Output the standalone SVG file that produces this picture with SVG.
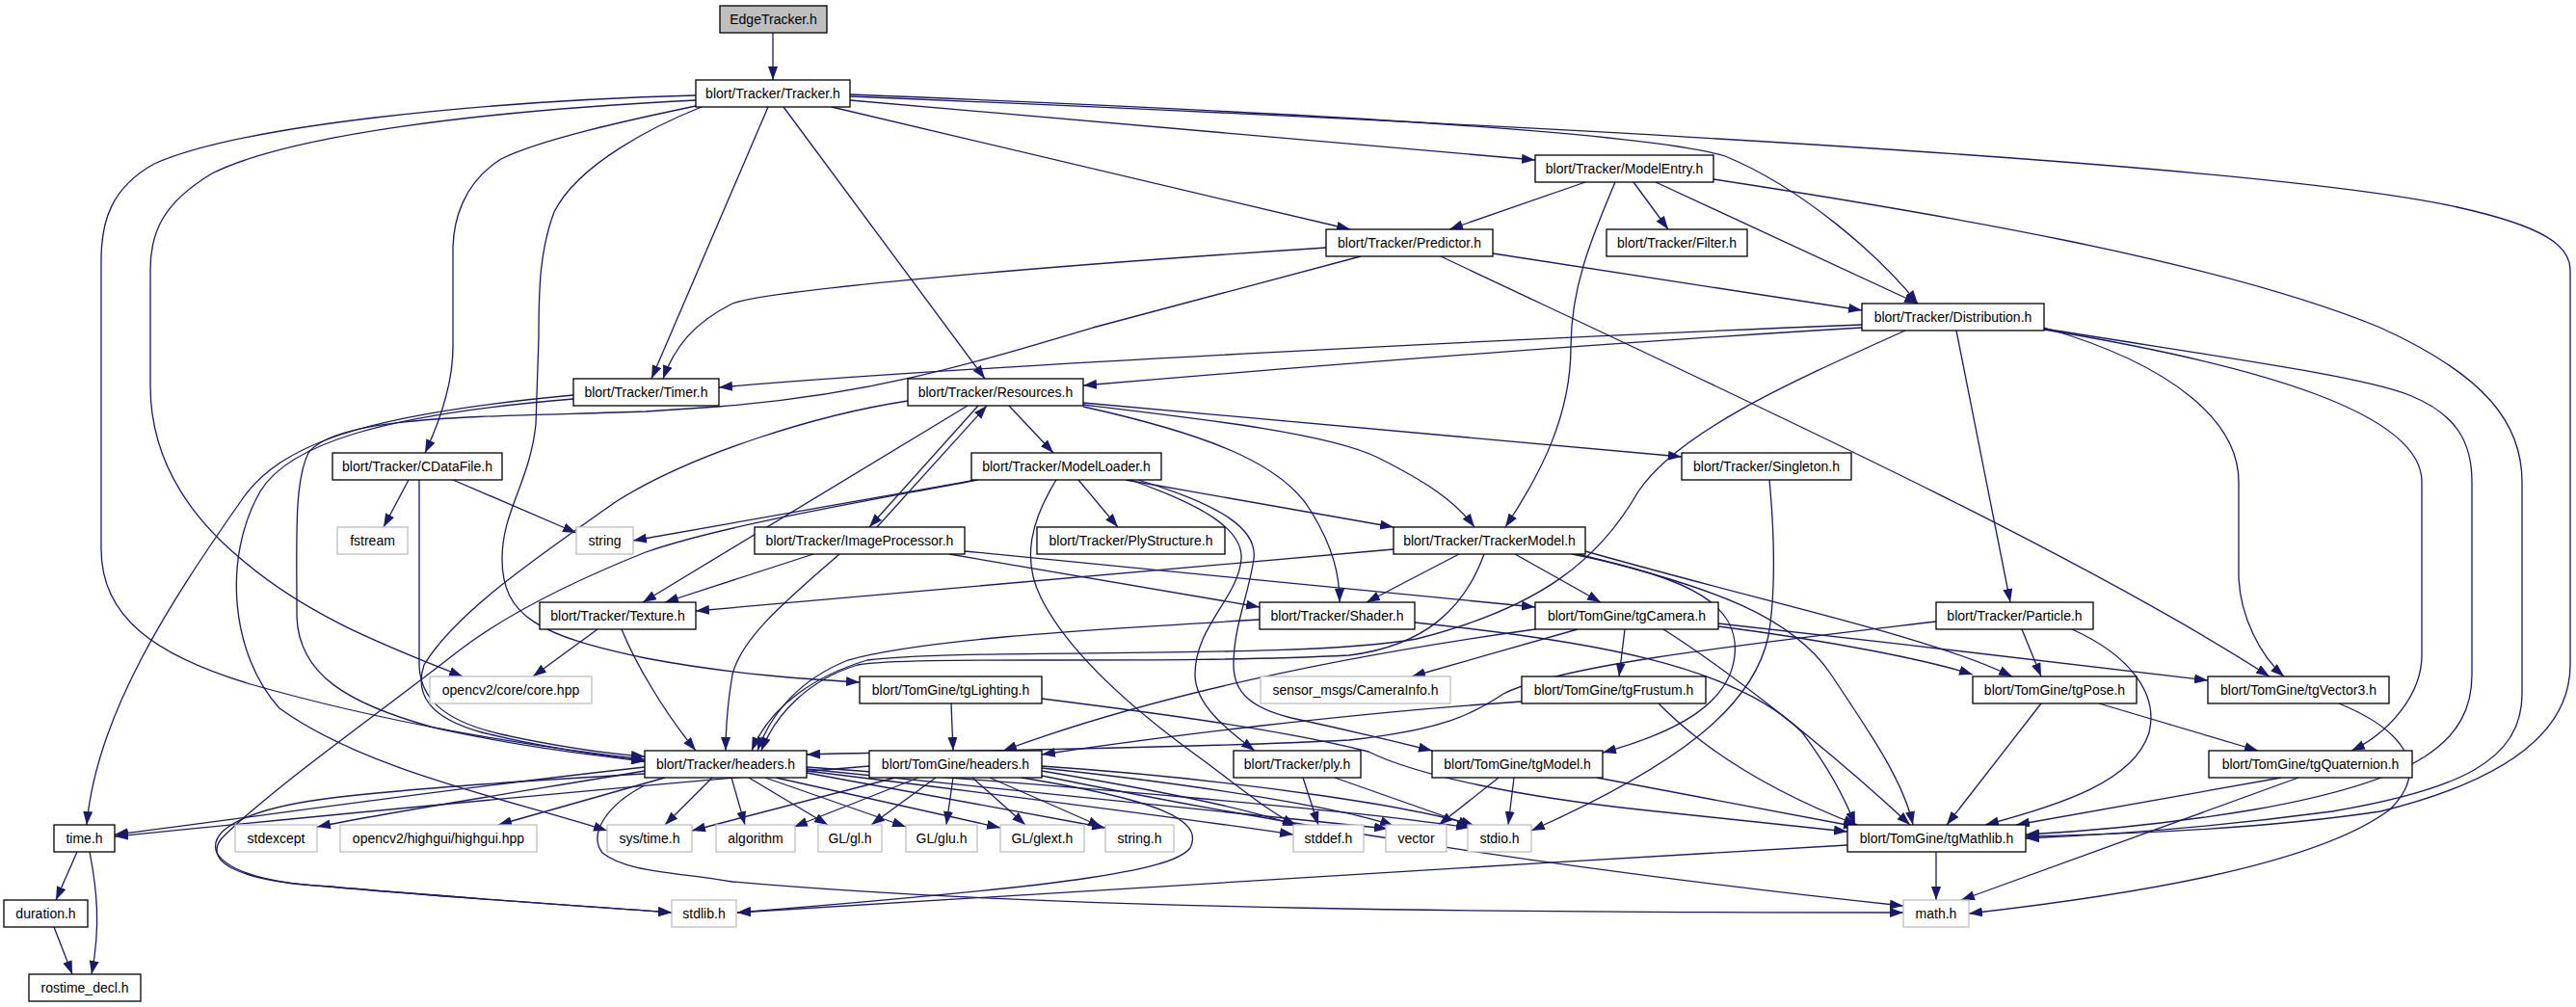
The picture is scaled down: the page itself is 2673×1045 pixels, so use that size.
<svg xmlns="http://www.w3.org/2000/svg" width="2673" height="1045" viewBox="0 0 2673 1045">
<style>
.edge{fill:none;stroke:#191970;stroke-width:1.3;marker-end:url(#arr)}
.node rect{fill:#ffffff;stroke:#000000;stroke-width:1.3}
.ext rect{fill:#ffffff;stroke:#bfbfbf;stroke-width:1.3}
.root rect{fill:#bfbfbf;stroke:#000000;stroke-width:1.3}
text{font-family:"Liberation Sans",Arial,sans-serif;font-size:14px;text-anchor:middle;fill:#000000}
</style>
<defs>
<marker id="arr" markerUnits="userSpaceOnUse" markerWidth="14" markerHeight="10" refX="14" refY="5" orient="auto"><path d="M0,0 L14,5 L0,10 z" fill="#191970"/></marker>
</defs>
<rect x="0" y="0" width="2673" height="1045" fill="#ffffff"/>
<g id="edges">
<path class="edge" d="M802,34 L802,83"/>
<path class="edge" d="M797,111 L676,393"/>
<path class="edge" d="M813,111 L1022,393"/>
<path class="edge" d="M863,111 L1401,238"/>
<path class="edge" d="M882,104 L1593,166"/>
<path class="edge" d="M882,98 C1300,115 1700,135 1790,162 C1870,195 1950,265 1990,315"/>
<path class="edge" d="M882,100 C1600,130 2350,170 2550,215 C2640,235 2667,255 2667,280 L2667,690 C2667,760 2600,810 2470,842 C2350,860 2200,866 2102,868"/>
<path class="edge" d="M722,110 C650,125 560,145 520,165 C480,190 470,230 470,260 L470,360 C470,400 455,440 441,470"/>
<path class="edge" d="M728,111 C680,130 600,170 575,220 C560,260 559,300 559,350 L556,440 C550,500 521,530 521,580 C521,640 560,660 670,683 C760,700 840,705 892,708"/>
<path class="edge" d="M722,99 C500,105 250,130 160,170 C115,195 105,230 105,270 L105,570 C105,640 160,680 260,710 C400,750 550,775 669,788"/>
<path class="edge" d="M722,104 C500,115 300,140 220,180 C170,210 156,240 156,280 L156,400 C156,470 190,530 250,580 C320,640 400,670 480,702"/>
<path class="edge" d="M1645,189 L1504,238"/>
<path class="edge" d="M1695,189 L1731,238"/>
<path class="edge" d="M1718,189 L1990,315"/>
<path class="edge" d="M1676,189 C1650,250 1630,300 1630,360 C1630,430 1600,490 1562,547"/>
<path class="edge" d="M1778,186 C2000,220 2300,270 2470,340 C2580,390 2617,440 2617,500 L2617,720 C2617,790 2550,820 2420,842 C2300,858 2200,866 2102,870"/>
<path class="edge" d="M1376,257 C1100,275 800,300 760,315 C720,335 700,360 688,393"/>
<path class="edge" d="M1549,263 L1932,322"/>
<path class="edge" d="M1495,266 C1800,410 2150,570 2355,702"/>
<path class="edge" d="M1412,266 L1134,340 C1000,380 900,410 745,422 L670,427 C500,433 350,430 320,470 C305,500 308,560 308,640 C310,700 360,730 450,755 C540,775 610,783 669,790"/>
<path class="edge" d="M1932,337 C1600,350 1000,380 746,402"/>
<path class="edge" d="M1932,340 C1600,360 1300,385 1124,400"/>
<path class="edge" d="M2030,343 L2086,625"/>
<path class="edge" d="M2121,340 C2260,380 2323,440 2323,500 L2323,600 C2325,640 2345,680 2370,702"/>
<path class="edge" d="M2121,342 C2350,380 2513,430 2513,500 L2513,680 C2513,720 2480,760 2440,779"/>
<path class="edge" d="M2121,341 C2300,370 2450,390 2500,410 C2550,430 2565,460 2565,500 L2565,700 C2565,770 2510,810 2340,840 C2250,855 2180,862 2102,866"/>
<path class="edge" d="M1977,343 C1850,400 1740,450 1700,510 C1660,580 1600,630 1470,663 C1350,685 1000,672 900,685 C850,700 800,730 780,779"/>
<path class="edge" d="M595,410 C380,430 290,460 250,520 C180,620 100,740 90,856"/>
<path class="edge" d="M595,414 C400,430 300,460 270,510 C230,580 240,680 290,735 C380,800 530,830 630,862"/>
<path class="edge" d="M1004,421 L667,625"/>
<path class="edge" d="M1015,421 L902,547"/>
<path class="edge" d="M910,547 L1024,421"/>
<path class="edge" d="M1047,421 L1093,470"/>
<path class="edge" d="M1124,418 L1745,474"/>
<path class="edge" d="M1124,420 C1250,435 1380,450 1430,475 C1480,500 1510,520 1530,547"/>
<path class="edge" d="M1124,422 C1250,450 1330,480 1360,530 C1385,570 1390,600 1390,625"/>
<path class="edge" d="M942,416 C850,430 720,470 640,520 C540,590 470,640 440,690 C430,720 445,745 500,760 C560,775 620,783 669,790"/>
<path class="edge" d="M1014,498 C900,520 750,545 670,573 C590,605 520,640 470,680 C380,750 280,820 230,870 C210,895 250,915 342,920 C450,930 600,940 697,947"/>
<path class="edge" d="M1019,497 L657,561"/>
<path class="edge" d="M1119,498 L1160,547"/>
<path class="edge" d="M1168,498 L1446,547"/>
<path class="edge" d="M1173,498 C1250,525 1290,550 1288,580 C1285,620 1240,650 1240,700 C1240,730 1270,755 1302,779"/>
<path class="edge" d="M1181,498 C1270,525 1305,550 1301,580 C1295,620 1280,650 1280,690 C1280,720 1300,735 1340,745 C1400,758 1450,770 1486,779"/>
<path class="edge" d="M1096,498 C1070,540 1060,580 1080,620 C1110,680 1180,740 1250,790 C1290,820 1320,845 1345,856"/>
<path class="edge" d="M844,575 L690,625"/>
<path class="edge" d="M985,575 L1307,630"/>
<path class="edge" d="M1001,572 L1593,630"/>
<path class="edge" d="M871,575 C820,620 770,660 760,700 C755,730 753,760 753,779"/>
<path class="edge" d="M1836,498 C1842,560 1842,620 1835,660 C1820,730 1750,790 1589,862"/>
<path class="edge" d="M424,498 L398,547"/>
<path class="edge" d="M470,498 L598,553"/>
<path class="edge" d="M435,498 L435,690 C436,725 460,748 520,762 C580,775 630,782 669,785"/>
<path class="edge" d="M620,653 L553,702"/>
<path class="edge" d="M645,653 C660,690 690,740 722,779"/>
<path class="edge" d="M1307,643 C1100,655 950,665 880,685 C830,705 800,740 786,779"/>
<path class="edge" d="M1468,646 C1650,665 1800,690 1870,760 C1900,800 1915,830 1925,856"/>
<path class="edge" d="M1446,570 L722,634"/>
<path class="edge" d="M1514,575 L1418,625"/>
<path class="edge" d="M1572,575 L1661,625"/>
<path class="edge" d="M1631,575 C1760,600 1805,630 1800,680 C1795,730 1740,760 1663,781"/>
<path class="edge" d="M1637,575 C1780,610 1860,640 1900,700 C1940,760 1975,810 1985,856"/>
<path class="edge" d="M1645,572 C1850,630 2000,660 2088,702"/>
<path class="edge" d="M1540,575 C1520,630 1480,670 1400,680 C1200,690 950,680 890,690 C840,705 805,740 790,779"/>
<path class="edge" d="M1637,653 L1465,702"/>
<path class="edge" d="M1686,653 L1680,702"/>
<path class="edge" d="M1783,650 C1900,665 2000,685 2047,700"/>
<path class="edge" d="M1783,647 C1950,665 2150,690 2291,706"/>
<path class="edge" d="M1593,653 C1400,680 1200,720 1041,779"/>
<path class="edge" d="M1726,653 C1800,700 1900,780 1982,856"/>
<path class="edge" d="M2098,653 L2118,702"/>
<path class="edge" d="M2150,653 C2210,680 2240,720 2230,760 C2215,810 2140,835 2060,856"/>
<path class="edge" d="M2009,645 C1800,670 1620,690 1560,720 C1530,740 1500,757 1400,768 C1200,778 1000,778 837,783"/>
<path class="edge" d="M987,730 L989,779"/>
<path class="edge" d="M1081,725 C1200,740 1330,757 1420,780 C1470,805 1580,827 1700,840 C1800,850 1870,858 1917,863"/>
<path class="edge" d="M1579,728 C1400,740 1200,765 1081,783"/>
<path class="edge" d="M1721,730 C1780,790 1860,830 1927,856"/>
<path class="edge" d="M2118,730 L2020,856"/>
<path class="edge" d="M2178,730 L2343,779"/>
<path class="edge" d="M2427,730 C2500,760 2520,800 2480,840 C2400,900 2200,930 2043,948"/>
<path class="edge" d="M2367,807 L2092,856"/>
<path class="edge" d="M2385,807 L2035,934"/>
<path class="edge" d="M1555,807 L1493,856"/>
<path class="edge" d="M1571,807 L1565,856"/>
<path class="edge" d="M1657,807 L1927,858"/>
<path class="edge" d="M1352,807 L1368,856"/>
<path class="edge" d="M1385,807 L1527,857"/>
<path class="edge" d="M739,807 L690,856"/>
<path class="edge" d="M759,807 L773,856"/>
<path class="edge" d="M777,807 L859,856"/>
<path class="edge" d="M794,807 L940,858"/>
<path class="edge" d="M805,807 L1038,859"/>
<path class="edge" d="M837,802 L1147,859"/>
<path class="edge" d="M837,800 C1000,820 1200,845 1342,866"/>
<path class="edge" d="M837,798 C1050,820 1300,845 1440,860"/>
<path class="edge" d="M837,796 C1100,815 1400,840 1525,859"/>
<path class="edge" d="M669,796 C450,820 250,850 119,866"/>
<path class="edge" d="M669,800 C550,820 420,840 329,858"/>
<path class="edge" d="M690,807 L517,856"/>
<path class="edge" d="M669,803 C550,810 400,820 330,830 C260,840 215,860 225,885 C240,910 300,918 342,920 C450,930 600,940 697,947"/>
<path class="edge" d="M669,815 C630,835 610,865 625,885 C650,905 700,905 760,915 C1100,945 1600,947 1975,947"/>
<path class="edge" d="M902,795 C600,820 300,850 119,868"/>
<path class="edge" d="M929,807 L718,862"/>
<path class="edge" d="M953,807 L824,858"/>
<path class="edge" d="M971,807 L904,856"/>
<path class="edge" d="M989,807 L982,856"/>
<path class="edge" d="M1009,807 L1064,856"/>
<path class="edge" d="M1027,807 L1143,858"/>
<path class="edge" d="M1081,800 C1200,820 1300,840 1345,857"/>
<path class="edge" d="M1081,797 C1250,815 1400,840 1446,857"/>
<path class="edge" d="M1081,795 C1300,810 1480,840 1530,857"/>
<path class="edge" d="M1060,807 C1200,830 1250,850 1235,880 C1215,905 1100,920 765,947"/>
<path class="edge" d="M1081,805 C1300,850 1600,900 1975,940"/>
<path class="edge" d="M2009,884 L2009,934"/>
<path class="edge" d="M1917,877 C1500,900 1000,935 765,947"/>
<path class="edge" d="M80,884 L58,934"/>
<path class="edge" d="M93,884 C100,920 105,960 95,1011"/>
<path class="edge" d="M56,962 L75,1011"/>
</g>
<g id="n-EdgeTracker" class="root"><rect x="747" y="6" width="111" height="28"/><text x="802.5" y="25">EdgeTracker.h</text></g>
<g id="n-Tracker" class="node"><rect x="722" y="83" width="160" height="28"/><text x="802" y="102">blort/Tracker/Tracker.h</text></g>
<g id="n-ModelEntry" class="node"><rect x="1593" y="161" width="185" height="28"/><text x="1685.5" y="180">blort/Tracker/ModelEntry.h</text></g>
<g id="n-Predictor" class="node"><rect x="1376" y="238" width="173" height="28"/><text x="1462.5" y="257">blort/Tracker/Predictor.h</text></g>
<g id="n-Filter" class="node"><rect x="1667" y="238" width="146" height="28"/><text x="1740" y="257">blort/Tracker/Filter.h</text></g>
<g id="n-Distribution" class="node"><rect x="1932" y="315" width="189" height="28"/><text x="2026.5" y="334">blort/Tracker/Distribution.h</text></g>
<g id="n-Timer" class="node"><rect x="595" y="393" width="151" height="28"/><text x="670.5" y="412">blort/Tracker/Timer.h</text></g>
<g id="n-Resources" class="node"><rect x="942" y="393" width="182" height="28"/><text x="1033" y="412">blort/Tracker/Resources.h</text></g>
<g id="n-CDataFile" class="node"><rect x="345" y="470" width="176" height="28"/><text x="433" y="489">blort/Tracker/CDataFile.h</text></g>
<g id="n-ModelLoader" class="node"><rect x="1008" y="470" width="197" height="28"/><text x="1106.5" y="489">blort/Tracker/ModelLoader.h</text></g>
<g id="n-Singleton" class="node"><rect x="1745" y="470" width="176" height="28"/><text x="1833" y="489">blort/Tracker/Singleton.h</text></g>
<g id="n-fstream" class="ext"><rect x="350" y="547" width="73" height="28"/><text x="386.5" y="566">fstream</text></g>
<g id="n-string" class="ext"><rect x="598" y="547" width="59" height="28"/><text x="627.5" y="566">string</text></g>
<g id="n-ImageProcessor" class="node"><rect x="783" y="547" width="218" height="28"/><text x="892" y="566">blort/Tracker/ImageProcessor.h</text></g>
<g id="n-PlyStructure" class="node"><rect x="1076" y="547" width="195" height="28"/><text x="1173.5" y="566">blort/Tracker/PlyStructure.h</text></g>
<g id="n-TrackerModel" class="node"><rect x="1446" y="547" width="199" height="28"/><text x="1545.5" y="566">blort/Tracker/TrackerModel.h</text></g>
<g id="n-Texture" class="node"><rect x="560" y="625" width="162" height="28"/><text x="641" y="644">blort/Tracker/Texture.h</text></g>
<g id="n-Shader" class="node"><rect x="1307" y="625" width="161" height="28"/><text x="1387.5" y="644">blort/Tracker/Shader.h</text></g>
<g id="n-tgCamera" class="node"><rect x="1593" y="625" width="190" height="28"/><text x="1688" y="644">blort/TomGine/tgCamera.h</text></g>
<g id="n-Particle" class="node"><rect x="2009" y="625" width="163" height="28"/><text x="2090.5" y="644">blort/Tracker/Particle.h</text></g>
<g id="n-cvcore" class="ext"><rect x="446" y="702" width="168" height="28"/><text x="530" y="721">opencv2/core/core.hpp</text></g>
<g id="n-tgLighting" class="node"><rect x="892" y="702" width="189" height="28"/><text x="986.5" y="721">blort/TomGine/tgLighting.h</text></g>
<g id="n-CameraInfo" class="ext"><rect x="1308" y="702" width="197" height="28"/><text x="1406.5" y="721">sensor_msgs/CameraInfo.h</text></g>
<g id="n-tgFrustum" class="node"><rect x="1579" y="702" width="191" height="28"/><text x="1674.5" y="721">blort/TomGine/tgFrustum.h</text></g>
<g id="n-tgPose" class="node"><rect x="2047" y="702" width="170" height="28"/><text x="2132" y="721">blort/TomGine/tgPose.h</text></g>
<g id="n-tgVector3" class="node"><rect x="2291" y="702" width="188" height="28"/><text x="2385" y="721">blort/TomGine/tgVector3.h</text></g>
<g id="n-TrHeaders" class="node"><rect x="669" y="779" width="168" height="28"/><text x="753" y="798">blort/Tracker/headers.h</text></g>
<g id="n-TgHeaders" class="node"><rect x="902" y="779" width="179" height="28"/><text x="991.5" y="798">blort/TomGine/headers.h</text></g>
<g id="n-ply" class="node"><rect x="1280" y="779" width="132" height="28"/><text x="1346" y="798">blort/Tracker/ply.h</text></g>
<g id="n-tgModel" class="node"><rect x="1486" y="779" width="177" height="28"/><text x="1574.5" y="798">blort/TomGine/tgModel.h</text></g>
<g id="n-tgQuaternion" class="node"><rect x="2292" y="779" width="211" height="28"/><text x="2397.5" y="798">blort/TomGine/tgQuaternion.h</text></g>
<g id="n-time" class="node"><rect x="56" y="856" width="63" height="28"/><text x="87.5" y="875">time.h</text></g>
<g id="n-stdexcept" class="ext"><rect x="244" y="856" width="85" height="28"/><text x="286.5" y="875">stdexcept</text></g>
<g id="n-highgui" class="ext"><rect x="353" y="856" width="204" height="28"/><text x="455" y="875">opencv2/highgui/highgui.hpp</text></g>
<g id="n-systime" class="ext"><rect x="630" y="856" width="88" height="28"/><text x="674" y="875">sys/time.h</text></g>
<g id="n-algorithm" class="ext"><rect x="743" y="856" width="82" height="28"/><text x="784" y="875">algorithm</text></g>
<g id="n-glgl" class="ext"><rect x="849" y="856" width="66" height="28"/><text x="882" y="875">GL/gl.h</text></g>
<g id="n-glglu" class="ext"><rect x="940" y="856" width="74" height="28"/><text x="977" y="875">GL/glu.h</text></g>
<g id="n-glext" class="ext"><rect x="1038" y="856" width="87" height="28"/><text x="1081.5" y="875">GL/glext.h</text></g>
<g id="n-stringh" class="ext"><rect x="1147" y="856" width="71" height="28"/><text x="1182.5" y="875">string.h</text></g>
<g id="n-stddef" class="ext"><rect x="1342" y="856" width="73" height="28"/><text x="1378.5" y="875">stddef.h</text></g>
<g id="n-vector" class="ext"><rect x="1438" y="856" width="63" height="28"/><text x="1469.5" y="875">vector</text></g>
<g id="n-stdio" class="ext"><rect x="1523" y="856" width="66" height="28"/><text x="1556" y="875">stdio.h</text></g>
<g id="n-tgMathlib" class="node"><rect x="1917" y="856" width="185" height="28"/><text x="2009.5" y="875">blort/TomGine/tgMathlib.h</text></g>
<g id="n-duration" class="node"><rect x="4" y="934" width="87" height="28"/><text x="47.5" y="953">duration.h</text></g>
<g id="n-stdlib" class="ext"><rect x="697" y="934" width="67" height="28"/><text x="730.5" y="953">stdlib.h</text></g>
<g id="n-math" class="ext"><rect x="1975" y="934" width="68" height="28"/><text x="2009" y="953">math.h</text></g>
<g id="n-rostime" class="node"><rect x="30" y="1011" width="116" height="28"/><text x="88" y="1030">rostime_decl.h</text></g>
</svg>
